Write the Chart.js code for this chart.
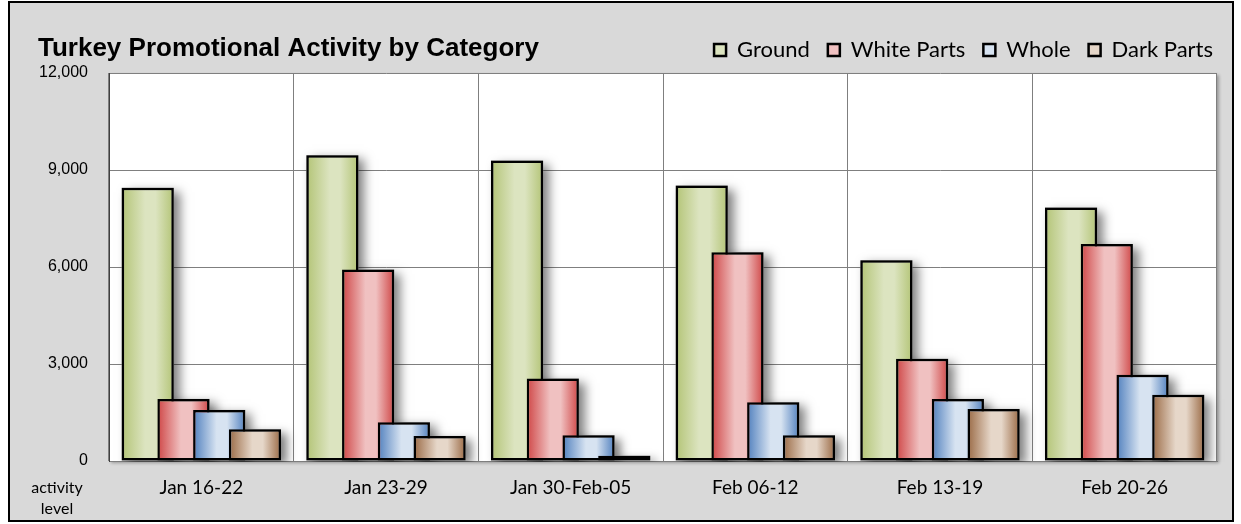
<!DOCTYPE html>
<html>
<head>
<meta charset="utf-8">
<script src="https://cdn.jsdelivr.net/npm/chart.js@4.4.1/dist/chart.umd.min.js"></script>
<style>
  html, body { margin: 0; padding: 0; background: #fff; }
  #wrap { width: 1241px; height: 524px; }
</style>
</head>
<body>
<div id="wrap"><canvas id="chart"></canvas></div>
<script>
// DATA
const weeks = ["Jan 16-22", "Jan 23-29", "Jan 30-Feb-05", "Feb 06-12", "Feb 13-19", "Feb 20-26"];
const ground = [8450, 9460, 9290, 8520, 6210, 7840];
const whiteParts = [1920, 5920, 2550, 6460, 3160, 6710];
const whole = [1580, 1200, 800, 1820, 1920, 2670];
const darkParts = [980, 775, 165, 800, 1610, 2050];
const yTicks = [0, 3000, 6000, 9000, 12000];

// dark edge / light centre of each bar's gradient
const shades = [
  ["#b3c476", "#dce4c0"],
  ["#cf4646", "#f0c1c1"],
  ["#5180be", "#d7e3f1"],
  ["#9a6a45", "#e6d7c9"],
];

function barGradient(ctx, el, pair) {
  const g = ctx.createLinearGradient(el.x - el.width / 2, 0, el.x + el.width / 2, 0);
  g.addColorStop(0, pair[0]);
  g.addColorStop(0.45, pair[1]);
  g.addColorStop(0.65, pair[1]);
  g.addColorStop(1, pair[0]);
  return g;
}

const panel = {
  id: "panel",
  // legend sits on the title row, nudge it to the right edge
  afterLayout(chart) {
    const lg = chart.legend;
    lg.left += 14; lg.right += 14;
    lg.top -= 2; lg.bottom -= 2;
  },
  beforeDraw(chart) {
    const { ctx, width, height, chartArea: a } = chart;
    ctx.save();
    ctx.fillStyle = "#fff";
    ctx.fillRect(0, 0, width, height);
    ctx.fillStyle = "#d9d9d9";
    ctx.fillRect(9, 2, 1224, 519);
    ctx.lineWidth = 2;
    ctx.strokeStyle = "#000";
    ctx.strokeRect(9, 2, 1224, 519);
    ctx.shadowColor = "rgba(0,0,0,0.3)";
    ctx.shadowBlur = 3;
    ctx.shadowOffsetX = 2;
    ctx.shadowOffsetY = 2;
    ctx.fillStyle = "#fff";
    ctx.fillRect(a.left, a.top, a.width, a.height);
    ctx.restore();

    ctx.save();
    ctx.fillStyle = "#000";
    ctx.font = "bold 26px 'Liberation Sans', Arial, sans-serif";
    ctx.textBaseline = "alphabetic";
    ctx.fillText("Turkey Promotional Activity by Category", 38, 56);
    ctx.font = "16px Lato, sans-serif";
    ctx.textAlign = "center";
    ctx.textBaseline = "middle";
    ctx.fillText("activity", 57, 488);
    ctx.fillText("level", 57, 509);
    ctx.restore();
  },
  // draw shadows first, then bars in series order so later series sit in front
  beforeDatasetsDraw(chart) {
    const ctx = chart.ctx;
    const a = chart.chartArea;
    const metas = chart.data.datasets.map((d, i) => chart.getDatasetMeta(i)).filter(m => !m.hidden);

    ctx.save();
    ctx.beginPath();
    ctx.rect(a.left, a.top, a.width + 20, a.height + 1);
    ctx.clip();
    ctx.shadowColor = "rgba(0,0,0,0.5)";
    ctx.shadowBlur = 10;
    ctx.shadowOffsetX = 6;
    ctx.shadowOffsetY = 4;
    ctx.fillStyle = "#999";
    metas.forEach(m => m.data.forEach(el => {
      ctx.fillRect(el.x - el.width / 2, Math.min(el.y, el.base), el.width, Math.abs(el.base - el.y));
    }));
    ctx.restore();

    metas.forEach((m, di) => {
      m.data.forEach(el => {
        el.options = Object.assign({}, el.options, { backgroundColor: barGradient(ctx, el, shades[di]) });
        el.draw(ctx, a);
      });
    });
    return false;
  },
};

function series(label, data, i) {
  return {
    label: label,
    data: data,
    backgroundColor: shades[i][1],
    borderColor: "#000",
    borderWidth: 2.5,
    borderSkipped: false,
  };
}

new Chart(document.getElementById("chart"), {
  type: "bar",
  data: {
    labels: weeks,
    datasets: [
      series("Ground", ground, 0),
      series("White Parts", whiteParts, 1),
      series("Whole", whole, 2),
      series("Dark Parts", darkParts, 3),
    ],
  },
  plugins: [panel],
  options: {
    responsive: true,
    maintainAspectRatio: false,
    animation: false,
    events: [],
    categoryPercentage: 0.774,
    barPercentage: 1.46,
    layout: { padding: { left: 20, right: 24, top: 23, bottom: 23 } },
    scales: {
      x: {
        grid: { offset: true, color: "#7f7f7f", drawTicks: false },
        border: { color: "#7f7f7f" },
        ticks: { color: "#000", font: { family: "Lato, sans-serif", size: 19 }, padding: 15 },
        afterFit: scale => { scale.height = 40; },
      },
      y: {
        min: 0,
        max: 12000,
        afterBuildTicks: scale => { scale.ticks = yTicks.map(v => ({ value: v })); },
        grid: { color: "#7f7f7f", drawTicks: false },
        border: { color: "#404040" },
        ticks: {
          color: "#000",
          font: { family: "'Liberation Sans', Arial, sans-serif", size: 16 },
          padding: 21,
          callback: v => v.toLocaleString("en-US"),
        },
        afterFit: scale => { scale.width = 89; },
      },
    },
    plugins: {
      tooltip: { enabled: false },
      legend: {
        position: "top",
        align: "end",
        labels: {
          color: "#000",
          boxWidth: 12,
          boxHeight: 12,
          padding: 18,
          font: { family: "Lato, sans-serif", size: 22 },
        },
      },
    },
  },
});
</script>
</body>
</html>
